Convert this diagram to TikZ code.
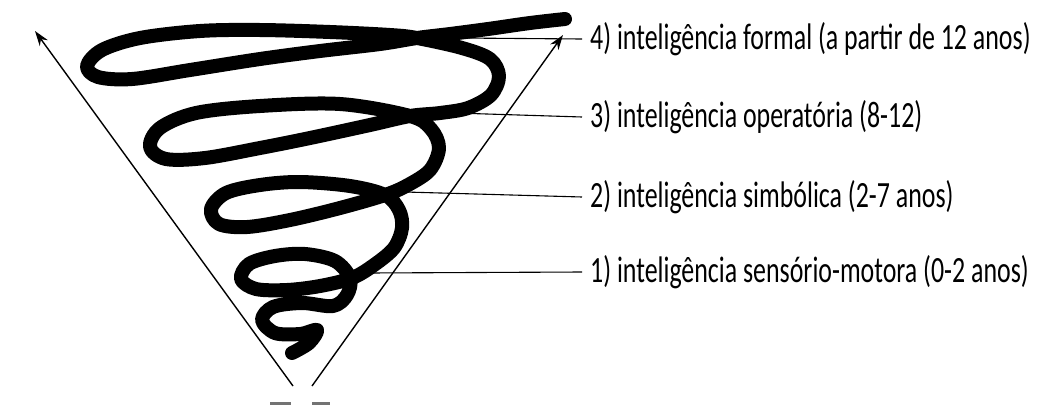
\documentclass[tikz,border=0pt]{standalone}
\usepackage{fontspec}
\setmainfont{Carlito}
\usetikzlibrary{arrows.meta}
\begin{document}
\begin{tikzpicture}[x=1pt,y=-1pt,
  spiral/.style={line width=14pt,line cap=round,line join=round,black},
  axis/.style={line width=1.4pt,black,-{Stealth[length=15pt,width=10pt]}},
  leader/.style={line width=1.1pt,black},
  lbl/.style={anchor=west,inner sep=0pt,font=\fontsize{37}{44}\selectfont},
  tick/.style={line width=3pt,black!55}]
\useasboundingbox (0,0) rectangle (1042,405);
% cone axes
\coordinate (bl) at (293,386);
\coordinate (tl) at (35,31);
\coordinate (br) at (312,386);
\coordinate (tr) at (563,35);
\draw[axis] (bl) -- (tl);
\draw[axis] (br) -- (tr);
% ticks at the bottom
\coordinate (d1a) at (270,403); \coordinate (d1b) at (291,403);
\coordinate (d2a) at (312,403); \coordinate (d2b) at (330,403);
\draw[tick] (d1a) -- (d1b);
\draw[tick] (d2a) -- (d2b);
% spiral
\draw[spiral] plot[smooth,tension=0.55] coordinates {
 (565,19) (530,23) (488,29) (450,34) (417,38) (380,44) (320,51) (260,59)
 (190,70) (132,79) (98,77) (87,66) (102,50) (140,38) (200,31) (260,30)
 (330,32) (390,35) (417,38) (462,48) (490,59) (499,76) (491,95) (468,108)
 (440,113) (410,116) (370,125) (310,138) (260,148) (205,158) (166,159)
 (150,147) (160,128) (196,113) (260,106) (340,104) (410,116) (431,129)
 (439,148) (430,170) (408,185) (385,195) (340,208) (290,220) (247,227)
 (219,224) (211,209) (226,193) (260,185) (300,182) (350,186) (385,195)
 (399,210) (402,228) (394,248) (374,265) (352,278) (320,286) (287,290)
 (256,289) (241,279) (249,264) (275,256) (305,254) (335,261) (350,278)
 (347,295) (333,306) (302,303) (273,307) (262,320) (275,333) (300,334)
 (317,330) (309,343) (292,353)};
% leader anchors on the spiral
\coordinate (s4) at (460,38);
\coordinate (s3) at (455,113);
\coordinate (s2) at (405,192);
\coordinate (s1) at (368,273);
% labels
\node[lbl] (l4) at (590,39) {\scalebox{0.7}[1]{4) inteligência formal (a partir de 12 anos)}};
\node[lbl] (l3) at (590,117) {\scalebox{0.7}[1]{3) inteligência operatória (8-12)}};
\node[lbl] (l2) at (590,197) {\scalebox{0.7}[1]{2) inteligência simbólica (2-7 anos)}};
\node[lbl] (l1) at (590,272) {\scalebox{0.7}[1]{1) inteligência sensório-motora (0-2 anos)}};
\draw[leader] (s4) -- ([xshift=-8pt]l4.west);
\draw[leader] (s3) -- ([xshift=-8pt]l3.west);
\draw[leader] (s2) -- ([xshift=-8pt]l2.west);
\draw[leader] (s1) -- ([xshift=-8pt]l1.west);
\end{tikzpicture}
\end{document}
